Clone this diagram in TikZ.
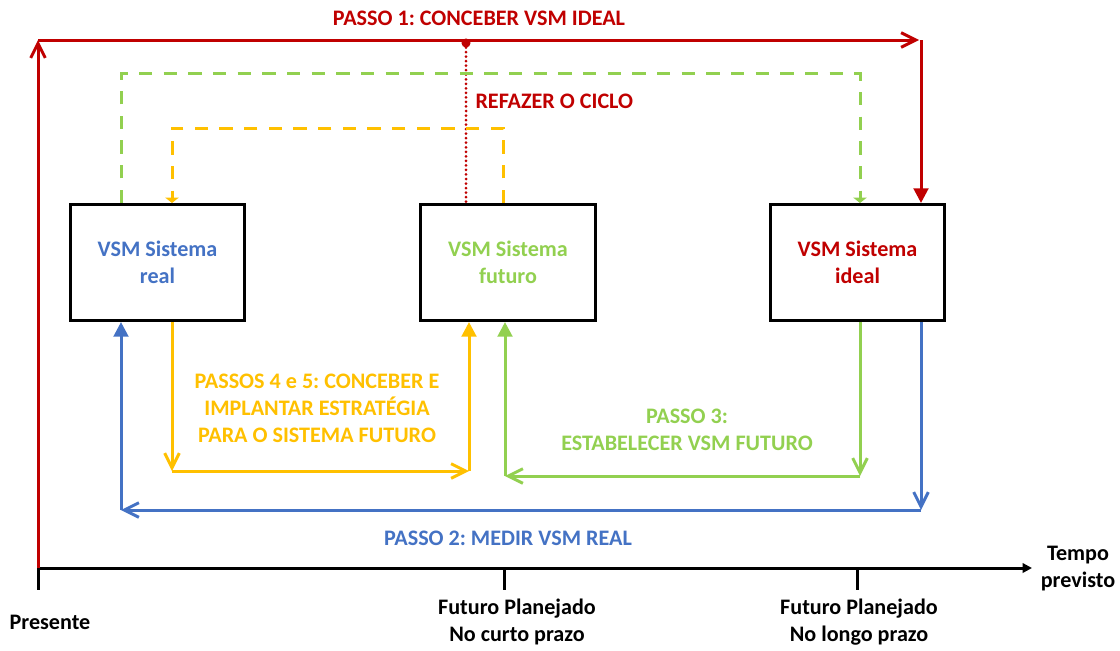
\documentclass[tikz,border=0pt]{standalone}
\usepackage{fontspec}
\setmainfont{Carlito}
\usetikzlibrary{arrows.meta,positioning}

\definecolor{vermelho}{HTML}{C00000}
\definecolor{azul}{HTML}{4472C4}
\definecolor{verde}{HTML}{92D050}
\definecolor{laranja}{HTML}{FFC000}

\tikzset{
    caixa/.style={draw=black, line width=2.3pt, minimum width=131pt, minimum height=87pt, align=center, inner sep=2pt},
    rotulo/.style={align=center, inner sep=0pt},
    tracejado/.style={dash pattern=on 10pt off 8.5pt},
    pontilhado/.style={line cap=round, dash pattern=on 0pt off 3.4pt},
    barb/.style={-{Straight Barb[length=11pt, width=11pt, line width=2.2pt]}},
    tri/.style={-{Triangle[length=11pt, width=11pt]}},
    trimini/.style={-{Triangle[length=4pt, width=10pt]}}
}

\begin{document}
\frenchspacing
\begin{tikzpicture}[x=0.75pt, y=-0.75pt, line width=2.25pt, font=\bfseries\fontsize{16.6}{20.25}\selectfont]

    \useasboundingbox (0,0) rectangle (1120,650);

    % 1. Caixas VSM
    \node[caixa, text=azul] (real) at (157.5, 262.5) {VSM Sistema\\real};
    \node[caixa, text=verde] (futuro) at (508, 262.5) {VSM Sistema\\futuro};
    \node[caixa, text=vermelho] (ideal) at (857.5, 262.5) {VSM Sistema\\ideal};

    % 2. Eixo do tempo
    \coordinate (O) at (38, 568);
    \coordinate (fim) at (1032, 568);
    \coordinate (t1) at (504, 568);
    \coordinate (t2) at (857, 568);
    \draw[black, -{Triangle[length=7pt, width=7pt]}] (O) -- (fim);
    \draw[black] (O) -- ++(0, 22);
    \draw[black] (t1) -- ++(0, 22);
    \draw[black] (t2) -- ++(0, 22);

    \node[rotulo] (presente) at (50, 622) {Presente};
    \node[rotulo] (curto) at (517, 622) {Futuro Planejado\\No curto prazo};
    \node[rotulo] (longo) at (859, 622) {Futuro Planejado\\No longo prazo};
    \node[rotulo] (tempo) at (1078, 569) {Tempo\\previsto};

    % 3. Passo 1 (vermelho)
    \coordinate (r1) at (38, 40);
    \coordinate (r2) at (919, 40);
    \coordinate (r3) at (921, 40);
    \draw[vermelho, barb] (O) -- (r1);
    \draw[vermelho, barb] (r1) -- (r2);
    \draw[vermelho, tri] (r3) -- (ideal.north -| r3);
    \node[rotulo, text=vermelho] (passo1) at (479, 18) {PASSO 1: CONCEBER VSM IDEAL};

    % Refazer o ciclo
    \coordinate (ponto) at (466, 43);
    \fill[vermelho] (ponto) circle (3.4pt);
    \draw[vermelho, pontilhado] (ponto) -- (futuro.north -| ponto);
    \node[rotulo, text=vermelho, anchor=west] (refazer) at (474, 101) {REFAZER O CICLO};

    % 4. Linhas tracejadas
    \coordinate (gd1) at (121, 73);
    \coordinate (gd2) at (860, 73);
    \draw[verde, tracejado, trimini] (real.north -| gd1) -- (gd1) -- (gd2) -- (ideal.north -| gd2);

    \coordinate (od1) at (503, 128);
    \coordinate (od2) at (172, 128);
    \draw[laranja, tracejado, trimini] (futuro.north -| od1) -- (od1) -- (od2) -- (real.north -| od2);

    % 5. Passos 4 e 5 (laranja)
    \coordinate (l1) at (172, 471);
    \coordinate (l2) at (469, 471);
    \draw[laranja, barb] (real.south -| l1) -- (l1);
    \draw[laranja, barb] (l1) -- (l2);
    \draw[laranja, tri] (l2) -- (futuro.south -| l2);
    \node[rotulo, text=laranja] (passos45) at (317, 408) {PASSOS 4 e 5: CONCEBER E\\IMPLANTAR ESTRATÉGIA\\PARA O SISTEMA FUTURO};

    % 6. Passo 3 (verde)
    \coordinate (v1) at (860, 476);
    \coordinate (v2) at (505, 476);
    \draw[verde, barb] (ideal.south -| v1) -- (v1);
    \draw[verde, barb] (v1) -- (v2);
    \draw[verde, tri] (v2) -- (futuro.south -| v2);
    \node[rotulo, text=verde] (passo3) at (687, 430) {PASSO 3:\\ESTABELECER VSM FUTURO};

    % 7. Passo 2 (azul)
    \coordinate (a1) at (921, 510);
    \coordinate (a2) at (121, 510);
    \draw[azul, barb] (ideal.south -| a1) -- (a1);
    \draw[azul, barb] (a1) -- (a2);
    \draw[azul, tri] (a2) -- (real.south -| a2);
    \node[rotulo, text=azul] (passo2) at (508, 538) {PASSO 2: MEDIR VSM REAL};

\end{tikzpicture}
\end{document}
